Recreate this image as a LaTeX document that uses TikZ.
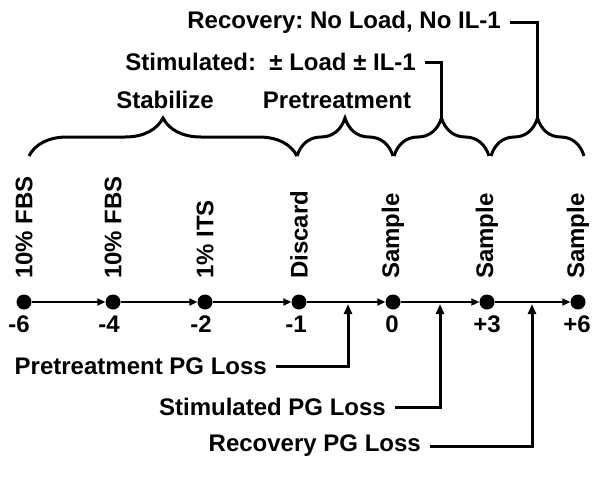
\documentclass[tikz,border=0pt]{standalone}
\usepackage{fontspec}
\setmainfont{Liberation Sans}
\usetikzlibrary{arrows.meta,decorations.pathreplacing}
\frenchspacing
\begin{document}
\begin{tikzpicture}[x=1pt,y=-1pt,
  txt/.style={font=\fontsize{24}{28}\selectfont\bfseries, inner sep=0pt},
  vlab/.style={txt, rotate=90, anchor=west},
  dot/.style={circle, fill=black, inner sep=0pt, minimum size=15pt},
  axis/.style={line width=2.2pt, -{Triangle[length=8pt,width=7pt]}},
  conn/.style={line width=3pt},
  pg/.style={line width=3pt, -{Triangle[length=10pt,width=8pt]}},
  br/.style={line width=3pt, decorate, decoration={brace, amplitude=38pt}}]
\useasboundingbox (0,0) rectangle (601,477);
% dots
\node[dot] (d1) at (24,302) {};
\node[dot] (d2) at (113,302) {};
\node[dot] (d3) at (205,302) {};
\node[dot] (d4) at (299,302) {};
\node[dot] (d5) at (393,302) {};
\node[dot] (d6) at (487,302) {};
\node[dot] (d7) at (578,302) {};
\foreach \a/\b in {d1/d2,d2/d3,d3/d4,d4/d5,d5/d6,d6/d7}
  \draw[axis] (\a) -- (\b);
% vertical labels
\node[vlab] (v1) at (24,279) {10\% FBS};
\node[vlab] (v2) at (113,279) {10\% FBS};
\node[vlab] (v3) at (205,279) {1\% ITS};
\node[vlab] (v4) at (299,279) {Discard};
\node[vlab] (v5) at (393,279) {Sample};
\node[vlab] (v6) at (487,279) {Sample};
\node[vlab] (v7) at (578,279) {Sample};
% numbers
\node[txt] (n1) at (19,324) {-6};
\node[txt] (n2) at (109,324) {-4};
\node[txt] (n3) at (201,324) {-2};
\node[txt] (n4) at (296,324) {-1};
\node[txt] (n5) at (392,324) {0};
\node[txt] (n6) at (487,324) {+3};
\node[txt] (n7) at (577,324) {+6};
% braces
\draw[br] (29,156) -- (297,156);
\draw[br] (297,156) -- (393,156);
\draw[br] (394,156) -- (489,156);
\draw[br] (491,156) -- (584,156);
\coordinate (t3) at (441,117);
\coordinate (t4) at (537,117);
% top labels
\node[txt] (stab) at (165,100) {Stabilize};
\node[txt] (pre) at (337,100) {Pretreatment};
\node[txt, anchor=east] (stim) at (416,62) {Stimulated:\ \ ± Load ± IL-1};
\node[txt, anchor=east] (rec) at (501,22) {Recovery: No Load, No IL-1};
\draw[conn] ([xshift=9pt]stim.east) -| (t3);
\draw[conn] ([xshift=9pt]rec.east) -| (t4);
% bottom labels
\coordinate (a1) at (348,304);
\coordinate (a2) at (440,304);
\coordinate (a3) at (532,304);
\node[txt, anchor=east] (l1) at (267,366) {Pretreatment PG Loss};
\node[txt, anchor=east] (l2) at (386,407) {Stimulated PG Loss};
\node[txt, anchor=east] (l3) at (421,446) {Recovery PG Loss};
\draw[pg] ([xshift=9pt]l1.east) -| (a1);
\draw[pg] ([xshift=9pt]l2.east) -| (a2);
\draw[pg] ([xshift=9pt]l3.east) -| (a3);
\end{tikzpicture}
\end{document}
